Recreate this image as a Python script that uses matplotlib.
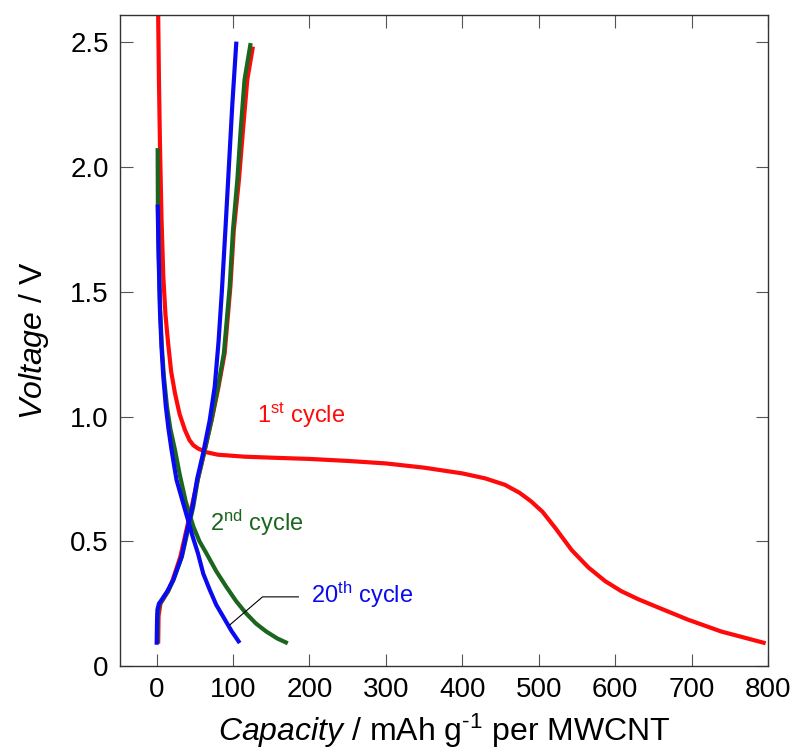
import matplotlib
matplotlib.use("Agg")
import matplotlib.pyplot as plt

plt.rcParams['font.family'] = ['Liberation Sans', 'DejaVu Sans']
plt.rcParams['mathtext.fontset'] = 'custom'
plt.rcParams['mathtext.rm'] = 'Liberation Sans'
plt.rcParams['mathtext.it'] = 'Liberation Sans:italic'

RED = '#ff0a0a'
GREEN = '#1b661f'
BLUE = '#0a0af0'

# 1st cycle
dis1_cap = [1.5, 2, 3, 4.3, 6.3, 8.7, 11.5, 15, 19, 24, 30, 37, 43, 48, 54, 65, 80, 115, 160,
            200, 250, 300, 350, 400, 430, 456, 475, 490, 505, 522, 543, 565, 587, 608, 630,
            652, 695, 739, 797]
dis1_v = [2.65, 2.61, 2.35, 2.096, 1.8, 1.561, 1.41, 1.294, 1.18, 1.093, 1.01, 0.946, 0.905,
          0.885, 0.872, 0.857, 0.847, 0.839, 0.834, 0.83, 0.822, 0.812, 0.795, 0.772, 0.752,
          0.726, 0.694, 0.66, 0.618, 0.552, 0.465, 0.395, 0.34, 0.3, 0.268, 0.24, 0.186,
          0.138, 0.091]
chg1_cap = [2, 2.5, 5, 8, 15, 21, 31, 38, 46, 54, 62, 72, 81, 89, 96.5, 101, 107.7, 113,
            118.6, 126]
chg1_v = [0.09, 0.2, 0.25, 0.265, 0.3, 0.345, 0.438, 0.532, 0.64, 0.75, 0.853, 0.986, 1.12,
          1.254, 1.521, 1.748, 1.949, 2.149, 2.35, 2.483]

# 2nd cycle
dis2_cap = [1.3, 1.6, 2.8, 4.6, 6.8, 9.5, 13.5, 18, 24, 30, 38, 48, 56, 65, 78, 91, 104, 117,
            130, 143.5, 158, 171.6]
dis2_v = [2.076, 1.862, 1.65, 1.427, 1.28, 1.16, 1.04, 0.95, 0.866, 0.77, 0.66, 0.559, 0.5,
          0.452, 0.38, 0.318, 0.26, 0.211, 0.17, 0.138, 0.11, 0.091]
chg2_cap = [1, 1.5, 4, 7.5, 15, 22, 33, 40, 48, 54, 62, 71.7, 80.3, 88, 95.6, 99.9, 105.6,
            110, 115, 123]
chg2_v = [0.09, 0.21, 0.25, 0.265, 0.3, 0.345, 0.438, 0.532, 0.64, 0.75, 0.853, 0.986, 1.12,
          1.254, 1.521, 1.748, 1.949, 2.149, 2.35, 2.497]

# 20th cycle
dis20_cap = [1.3, 2.5, 4.3, 6.3, 8.7, 12, 15.5, 19.5, 26, 34, 41, 47, 54, 61, 69.5, 78, 87,
             98, 108.7]
dis20_v = [1.85, 1.65, 1.427, 1.28, 1.16, 1.04, 0.95, 0.866, 0.746, 0.66, 0.585, 0.52, 0.452,
           0.37, 0.305, 0.245, 0.198, 0.14, 0.092]
chg20_cap = [0, 0.5, 1, 3, 6.5, 14, 21.7, 32.6, 39, 47, 53, 60.8, 69.5, 76, 81, 85.3, 90,
             94.5, 99, 104.3]
chg20_v = [0.085, 0.18, 0.225, 0.25, 0.265, 0.3, 0.345, 0.438, 0.532, 0.64, 0.75, 0.853,
           0.986, 1.12, 1.3, 1.5, 1.75, 2.0, 2.25, 2.503]

x_ticks = [0, 100, 200, 300, 400, 500, 600, 700, 800]
y_ticks = [0, 0.5, 1.0, 1.5, 2.0, 2.5]
y_tick_labels = ['0', '0.5', '1.0', '1.5', '2.0', '2.5']

# leader line for the 20th cycle label
leader_cap = [95.5, 138.6, 185.5]
leader_v = [0.164, 0.277, 0.277]

fig = plt.figure(figsize=(7.94, 7.52), dpi=100)
ax = fig.add_axes([0.1511, 0.1144, 0.8161, 0.8661])

style = dict(lw=3.0, solid_capstyle='butt', solid_joinstyle='round')
ax.plot(dis1_cap, dis1_v, color=RED, **style)
ax.plot(chg1_cap, chg1_v, color=RED, **style)
ax.plot(dis2_cap, dis2_v, color=GREEN, **style)
ax.plot(chg2_cap, chg2_v, color=GREEN, **style)
ax.plot(dis20_cap, dis20_v, color=BLUE, **style)
ax.plot(chg20_cap, chg20_v, color=BLUE, **style)
ax.plot(leader_cap, leader_v, color='black', lw=0.8)

ax.text(131, 1.006, r'1$^{\mathrm{st}}$ cycle', color=RED, fontsize=17, va='center')
ax.text(69.7, 0.573, r'2$^{\mathrm{nd}}$ cycle', color=GREEN, fontsize=17, va='center')
ax.text(202.6, 0.285, r'20$^{\mathrm{th}}$ cycle', color=BLUE, fontsize=17, va='center')

ax.set_xlim(-48, 798)
ax.set_ylim(0, 2.611)
ax.set_xticks(x_ticks)
ax.set_yticks(y_ticks)
ax.set_yticklabels(y_tick_labels)
ax.tick_params(direction='in', length=9, width=0.8, color='#555555', labelsize=20,
               top=True, right=True, pad=8)
for s in ax.spines.values():
    s.set_color('#333333')
    s.set_linewidth(1.0)

ax.set_xlabel(r'$\mathit{Capacity}$ / mAh g$^{\text{-}1}$ per MWCNT', fontsize=23, labelpad=6)
ax.set_ylabel(r'$\mathit{Voltage}$ / V', fontsize=23, labelpad=14)

fig.savefig('out.png', dpi=100)
